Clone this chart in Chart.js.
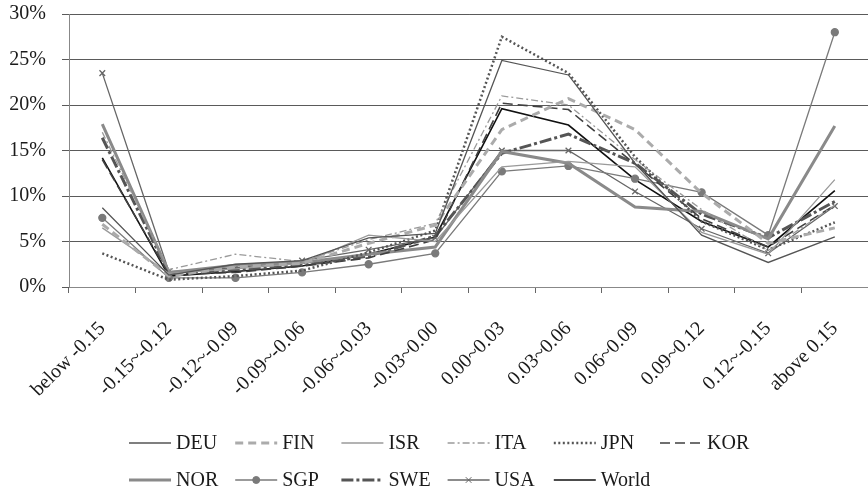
<!DOCTYPE html>
<html>
<head>
<meta charset="utf-8">
<title>Return distribution</title>
<script src="https://cdn.jsdelivr.net/npm/chart.js@4.4.0/dist/chart.umd.min.js"></script>
<style>
  html, body { margin: 0; padding: 0; overflow: hidden; background: #fff; }
  /* y tick padding adds space above the plot, so the canvas is pulled up a little */
  #wrap { position: relative; width: 876px; height: 507px; margin-top: -14px; }
</style>
</head>
<body>
<div id="wrap"><canvas id="myLineChart"></canvas></div>
<script>
const categories = ['below -0.15', '-0.15~-0.12', '-0.12~-0.09', '-0.09~-0.06', '-0.06~-0.03', '-0.03~0.00',
    '0.00~0.03', '0.03~0.06', '0.06~0.09', '0.09~0.12', '0.12~-0.15', 'above 0.15'];

// share of observations, in percent
const deu = [8.7, 1.3, 2.5, 2.9, 5.4, 5.9, 24.9, 23.3, 13.6, 5.7, 2.7, 5.5];
const fin = [6.9, 1.2, 2.2, 2.6, 4.8, 6.8, 17.3, 20.7, 17.3, 10.3, 4.8, 6.5];
const isr = [6.5, 1.5, 2.0, 2.6, 5.7, 5.0, 13.2, 13.8, 13.2, 6.0, 3.6, 11.8];
const ita = [17.0, 1.9, 3.6, 2.8, 5.2, 7.0, 21.0, 20.0, 14.0, 8.5, 4.0, 9.0];
const jpn = [3.7, 0.8, 1.2, 1.8, 3.8, 6.2, 27.5, 23.5, 14.3, 7.2, 4.1, 7.1];
const kor = [14.0, 1.4, 1.6, 2.3, 3.2, 5.2, 20.2, 19.5, 13.5, 7.5, 4.4, 9.0];
const nor = [17.9, 1.6, 2.4, 2.7, 3.6, 4.4, 14.9, 13.6, 8.8, 8.3, 5.3, 17.7];
const sgp = [7.6, 1.0, 1.0, 1.6, 2.5, 3.7, 12.7, 13.3, 11.9, 10.4, 5.7, 28.0];
const swe = [16.4, 1.5, 1.9, 2.4, 3.4, 5.6, 14.7, 16.8, 13.6, 8.0, 5.4, 9.4];
const usa = [23.5, 1.7, 2.1, 2.9, 4.1, 5.4, 15.0, 15.0, 10.5, 6.4, 3.7, 8.9];
const world = [14.2, 1.2, 1.7, 2.3, 3.6, 5.5, 19.6, 17.8, 11.8, 7.2, 4.4, 10.6];

const yMin = 0, yMax = 30, yStep = 5;

const FONT = '"Liberation Serif", "Times New Roman", serif';

function line(label, data, color, width, dash, extra) {
    return Object.assign({
        label: label,
        data: data,
        borderColor: color,
        backgroundColor: color,
        borderWidth: width,
        borderDash: dash,
        pointRadius: 0,
        tension: 0,
        fill: false
    }, extra || {});
}

// Excel style legend: fixed columns, two rows
const gridLegend = {
    id: 'gridLegend',
    afterDraw: function (chart) {
        const c = chart.ctx;
        c.save();
        c.font = '20px ' + FONT;
        c.textBaseline = 'middle';
        chart.data.datasets.forEach(function (ds, i) {
            const x = 129 + (i % 6) * 106.2;
            const y = i < 6 ? 457 : 494;
            c.strokeStyle = ds.borderColor;
            c.lineWidth = ds.borderWidth;
            c.setLineDash(ds.borderDash || []);
            c.beginPath();
            c.moveTo(x, y);
            c.lineTo(x + 42, y);
            c.stroke();
            c.setLineDash([]);
            if (ds.pointRadius > 0) {
                c.fillStyle = ds.pointBackgroundColor || ds.borderColor;
                c.lineWidth = 1;
                Chart.helpers.drawPoint(c, {pointStyle: ds.pointStyle, radius: ds.pointRadius, borderWidth: 1, rotation: 0}, x + 21, y);
            }
            c.fillStyle = '#1a1a1a';
            c.fillText(ds.label, x + 47, y + 1);
        });
        c.restore();
    }
};

const ctxLine = document.getElementById('myLineChart').getContext('2d');

const dataLine = {
    labels: categories,
    datasets: [
        line('DEU', deu, '#555555', 1.3, []),
        line('FIN', fin, '#ababab', 3, [8, 5]),
        line('ISR', isr, '#9a9a9a', 1.3, []),
        line('ITA', ita, '#9a9a9a', 1.3, [7, 3, 2, 3]),
        line('JPN', jpn, '#555555', 2.5, [2, 2.5]),
        line('KOR', kor, '#404040', 1.6, [10, 5]),
        line('NOR', nor, '#8a8a8a', 3, []),
        line('SGP', sgp, '#7a7a7a', 1.3, [], {pointRadius: 3.5, pointStyle: 'circle', pointBackgroundColor: '#7a7a7a'}),
        line('SWE', swe, '#555555', 3, [12, 3, 3, 3]),
        line('USA', usa, '#666666', 1.3, [], {pointRadius: 4, pointStyle: 'crossRot', pointBorderWidth: 1.3}),
        line('World', world, '#111111', 1.6, [])
    ]
};

const configLine = {
    type: 'line',
    data: dataLine,
    plugins: [gridLegend],
    options: {
        responsive: true,
        maintainAspectRatio: false,
        animation: false,
        layout: {padding: {top: 0, right: 0, bottom: 0, left: 0}},
        plugins: {
            legend: {display: false},
            tooltip: {enabled: false}
        },
        scales: {
            x: {
                offset: true,
                afterFit: function (scale) { scale.height = 206; },
                border: {color: '#888888', width: 1},
                grid: {offset: true, drawOnChartArea: false, drawTicks: true, tickLength: 6, color: '#666666'},
                ticks: {
                    color: '#1a1a1a',
                    font: {family: FONT, size: 20},
                    minRotation: 45,
                    maxRotation: 45,
                    autoSkip: false,
                    padding: 24
                }
            },
            y: {
                min: yMin,
                max: yMax,
                afterFit: function (scale) { scale.width = 69; },
                border: {color: '#888888', width: 1},
                grid: {color: '#5a5a5a', lineWidth: 1, drawTicks: true, tickLength: 7},
                ticks: {
                    stepSize: yStep,
                    color: '#1a1a1a',
                    font: {family: FONT, size: 20},
                    padding: 16,
                    callback: function (value) { return value + '%'; }
                }
            }
        }
    }
};

new Chart(ctxLine, configLine);
</script>
</body>
</html>
